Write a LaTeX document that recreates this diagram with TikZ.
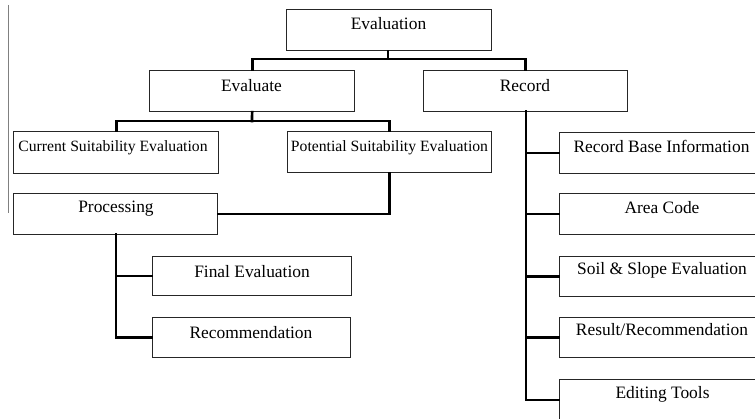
\documentclass[tikz,border=0pt]{standalone}
\usepackage{fontspec}
\setmainfont{Liberation Serif}
\begin{document}
\begin{tikzpicture}[x=1pt,y=-1pt,
  box/.style={draw=black!85,line width=1.3pt,rectangle,inner sep=0pt,anchor=north west},
  lbl/.style={anchor=base,inner sep=0pt,font=\fontsize{17.4}{20}\selectfont},
  slbl/.style={anchor=base,inner sep=0pt,font=\fontsize{15.7}{18}\selectfont},
  link/.style={line width=2.7pt,black,line cap=rect}]
\useasboundingbox (0,0) rectangle (755,419);
\clip (0,0) rectangle (755,419);

% stray margin rule
\draw[gray,line width=1pt] (8,5) -- (8,213);

% boxes
\node[box,minimum width=205pt,minimum height=41pt] (eval) at (286,9) {};
\node[box,minimum width=205pt,minimum height=41pt] (evl) at (149,70) {};
\node[box,minimum width=204pt,minimum height=41pt] (rec) at (423,70) {};
\node[box,minimum width=205pt,minimum height=42pt] (cur) at (13,131) {};
\node[box,minimum width=204pt,minimum height=41pt] (pot) at (287,131) {};
\node[box,minimum width=204pt,minimum height=41pt] (proc) at (13,193) {};
\node[box,minimum width=199pt,minimum height=39pt] (fin) at (152,256) {};
\node[box,minimum width=198pt,minimum height=40pt] (recm) at (152,317) {};
\node[box,minimum width=205pt,minimum height=41pt] (rbi) at (559,132) {};
\node[box,minimum width=205pt,minimum height=41pt] (area) at (559,193) {};
\node[box,minimum width=205pt,minimum height=40pt] (soil) at (559,256) {};
\node[box,minimum width=205pt,minimum height=40pt] (res) at (559,317) {};
\node[box,minimum width=205pt,minimum height=41pt] (edit) at (559,379) {};

% labels
\node[lbl] (teval) at (388.5,29.5) {Evaluation};
\node[lbl] (tevl) at (251.5,91.5) {Evaluate};
\node[lbl] (trec) at (525,91.5) {Record};
\node[slbl] (tcur) at (113,151.5) {Current Suitability Evaluation};
\node[slbl] (tpot) at (389.5,151.5) {Potential Suitability Evaluation};
\node[lbl] (tproc) at (116,213) {Processing};
\node[lbl] (tfin) at (252,278) {Final Evaluation};
\node[lbl] (trecm) at (251,339) {Recommendation};
\node[lbl] (trbi) at (661.5,153) {Record Base Information};
\node[lbl] (tarea) at (662,214) {Area Code};
\node[lbl] (tsoil) at (662,275) {Soil \& Slope Evaluation};
\node[lbl] (tres) at (662,336) {Result/Recommendation};
\node[lbl] (tedit) at (662.5,399) {Editing Tools};

% tree connectors
\coordinate (j1) at (388,59);
\draw[link] (eval.south -| j1) -- (j1);
\draw[link] (evl.north) |- (j1) -| (rec.north);

\coordinate (j2) at (252,121);
\draw[link] (evl.south) -- (j2);
\draw[link] (cur.north) |- (j2) -| (pot.north);

\draw[link] (pot.south) |- (proc.east);

\coordinate (p0) at (116,234);
\draw[link] (p0) |- (recm.west);
\draw[link] (p0 |- fin.west) -- (fin.west);

\coordinate (r0) at (526,111);
\draw[link] (r0) |- (edit.west);
\foreach \n in {rbi,area,soil,res}
  \draw[link] (r0 |- \n.west) -- (\n.west);
\end{tikzpicture}
\end{document}
